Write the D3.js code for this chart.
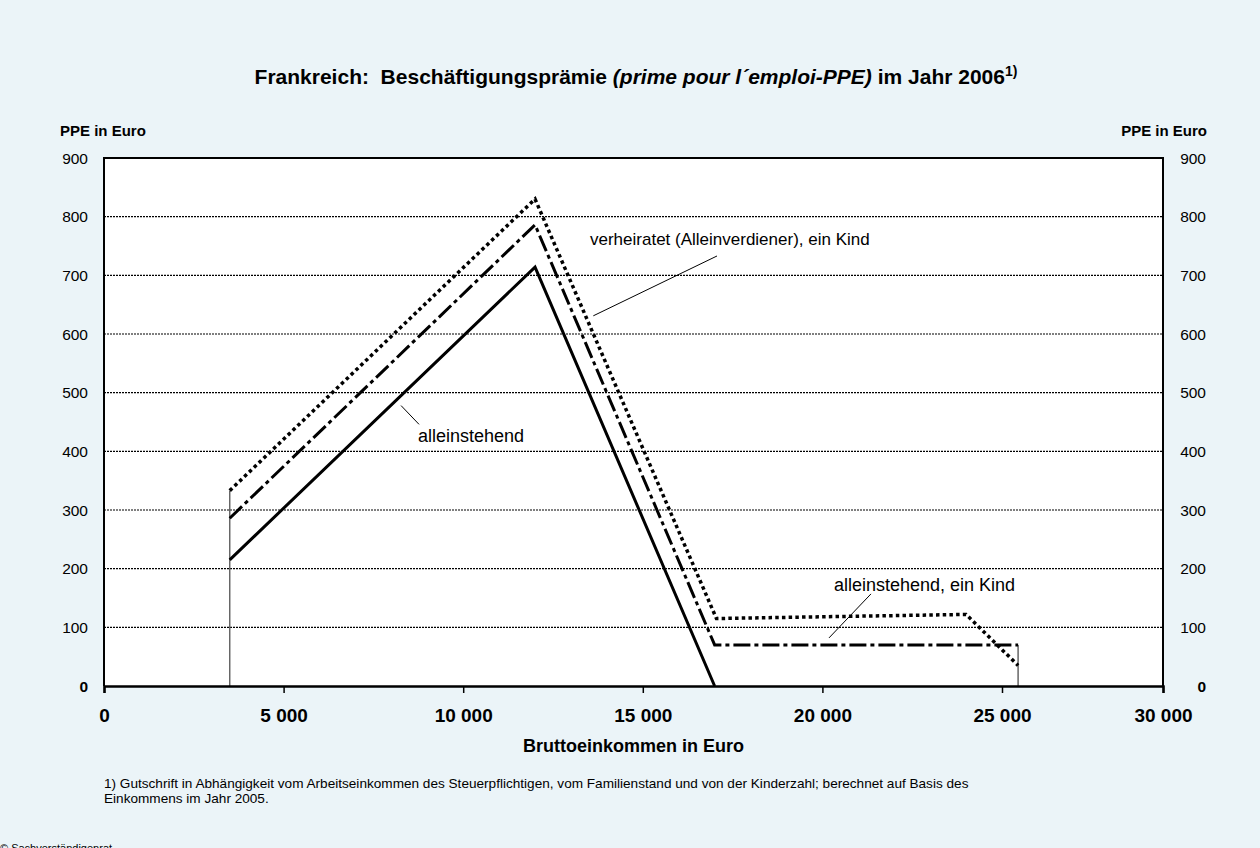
<!DOCTYPE html>
<html>
<head>
<meta charset="utf-8">
<script src="https://cdn.jsdelivr.net/npm/d3@7"></script>
<style>
  body { margin: 0; background: #ebf4f8; }
  svg { display: block; font-family: "Liberation Sans", Arial, sans-serif; }
</style>
</head>
<body>
<div id="chart"></div>
<script>
// Data (income in Euro, PPE in Euro)
const incomeSingle = [3500, 12000, 17000];
const ppeSingle = [215, 714, 0];

const incomeSingleChild = [3500, 12000, 17000, 25500];
const ppeSingleChild = [286, 786, 70, 70];

const incomeMarried = [3500, 12000, 17050, 20000, 24000, 25500];
const ppeMarried = [333, 830, 115, 118, 122, 35];

// thin vertical limits at start/end of eligibility
const limitIncome = [3500, 25500];
const limitPpe = [333, 70];

const xTicks = [0, 5000, 10000, 15000, 20000, 25000, 30000];
const yTicks = [0, 100, 200, 300, 400, 500, 600, 700, 800, 900];
const gridValues = [100, 200, 300, 400, 500, 600, 700, 800];

// annotations: label text, label anchor, leader line (all in data units)
const annotations = [
  { text: "verheiratet (Alleinverdiener), ein Kind", x: 13530, y: 752, size: 17, line: [[17066, 733], [13622, 631]] },
  { text: "alleinstehend", x: 8742, y: 416, size: 18, line: [[8270, 478], [8770, 446]] },
  { text: "alleinstehend, ein Kind", x: 20323, y: 162, size: 18, line: [[21353, 157], [20184, 82]] }
];

const W = 1260, H = 848;
const plot = { left: 104, right: 1163, top: 158, bottom: 686 };

const svg = d3.select("#chart").append("svg")
  .attr("width", W)
  .attr("height", H);

svg.append("rect")
  .attr("width", W).attr("height", H)
  .attr("fill", "#ebf4f8");

// the original axis has a shorter last interval, so use a piecewise scale
const x = d3.scaleLinear()
  .domain([0, 25000, 30000])
  .range([plot.left, 1002, plot.right]);

const y = d3.scaleLinear()
  .domain([0, 900])
  .range([plot.bottom, plot.top]);

const fmt = d3.formatLocale({ decimal: ",", thousands: " ", grouping: [3], currency: ["", " €"] }).format(",d");

// plot background
svg.append("rect")
  .attr("x", plot.left).attr("y", plot.top)
  .attr("width", plot.right - plot.left)
  .attr("height", plot.bottom - plot.top)
  .attr("fill", "#fff");

// gridlines
svg.append("g").selectAll("line")
  .data(gridValues)
  .enter().append("line")
  .attr("x1", plot.left).attr("x2", plot.right)
  .attr("y1", d => y(d)).attr("y2", d => y(d))
  .attr("stroke", "#000")
  .attr("stroke-width", 1.2)
  .attr("stroke-dasharray", "2,1");

// thin limit lines
svg.append("g").selectAll("line")
  .data(limitIncome)
  .enter().append("line")
  .attr("x1", d => x(d)).attr("x2", d => x(d))
  .attr("y1", y(0)).attr("y2", (d, i) => y(limitPpe[i]))
  .attr("stroke", "#666")
  .attr("stroke-width", 1.5);

// series
const line = d3.line().x(d => x(d[0])).y(d => y(d[1]));
const series = [
  { xs: incomeMarried, ys: ppeMarried, dash: "3.5,3.2", width: 3.5 },
  { xs: incomeSingleChild, ys: ppeSingleChild, dash: "17,4,4,4", width: 3 },
  { xs: incomeSingle, ys: ppeSingle, dash: null, width: 3 }
];
svg.append("g").selectAll("path")
  .data(series)
  .enter().append("path")
  .attr("d", d => line(d.xs.map((v, i) => [v, d.ys[i]])))
  .attr("fill", "none")
  .attr("stroke", "#000")
  .attr("stroke-width", d => d.width)
  .attr("stroke-dasharray", d => d.dash);

// frame (left, top, right) and x axis
svg.append("path")
  .attr("d", `M${plot.left},${plot.bottom}V${plot.top}H${plot.right}V${plot.bottom}`)
  .attr("fill", "none")
  .attr("stroke", "#000")
  .attr("stroke-width", 2);

const xAxis = svg.append("g")
  .attr("transform", `translate(0,${plot.bottom})`)
  .call(d3.axisBottom(x).tickValues(xTicks).tickFormat(fmt).tickSize(7).tickPadding(16));
xAxis.select(".domain").attr("stroke-width", 2.5).attr("stroke", "#000");
xAxis.selectAll(".tick line").attr("stroke-width", 1.5);
xAxis.selectAll("text")
  .attr("font-size", 19)
  .attr("font-weight", "bold")
  .attr("fill", "#000")
  .attr("font-family", "Liberation Sans, Arial, sans-serif");

// y labels, left and right
const yLabel = (anchorX) => {
  svg.append("g").selectAll("text")
    .data(yTicks)
    .enter().append("text")
    .attr("x", anchorX)
    .attr("y", d => y(d) + 5.5)
    .attr("text-anchor", "end")
    .attr("font-size", 15.5)
    .attr("font-weight", d => d === 0 ? "bold" : "normal")
    .text(d => d);
};
yLabel(88);
yLabel(1206);

svg.append("text")
  .attr("x", 60).attr("y", 136)
  .attr("font-size", 15).attr("font-weight", "bold")
  .text("PPE in Euro");
svg.append("text")
  .attr("x", 1207).attr("y", 136)
  .attr("text-anchor", "end")
  .attr("font-size", 15).attr("font-weight", "bold")
  .text("PPE in Euro");

svg.append("text")
  .attr("x", (plot.left + plot.right) / 2).attr("y", 752)
  .attr("text-anchor", "middle")
  .attr("font-size", 18).attr("font-weight", "bold")
  .text("Bruttoeinkommen in Euro");

// title
const title = svg.append("text")
  .attr("x", 636).attr("y", 84)
  .attr("text-anchor", "middle")
  .attr("font-size", 21).attr("font-weight", "bold");
title.append("tspan").text("Frankreich:\u00a0\u00a0Beschäftigungsprämie ");
title.append("tspan").attr("font-style", "italic").text("(prime pour l´emploi-PPE)");
title.append("tspan").text(" im Jahr 2006");
title.append("tspan").attr("font-size", 14).attr("dy", -8).text("1)");

// annotations
annotations.forEach(a => {
  svg.append("line")
    .attr("x1", x(a.line[0][0])).attr("y1", y(a.line[0][1]))
    .attr("x2", x(a.line[1][0])).attr("y2", y(a.line[1][1]))
    .attr("stroke", "#000").attr("stroke-width", 1);
  svg.append("text")
    .attr("x", x(a.x)).attr("y", y(a.y))
    .attr("font-size", a.size)
    .text(a.text);
});

// footnote
svg.append("text")
  .attr("x", 104).attr("y", 788)
  .attr("font-size", 13.6)
  .text("1) Gutschrift in Abhängigkeit vom Arbeitseinkommen des Steuerpflichtigen, vom Familienstand und von der Kinderzahl; berechnet auf Basis des");
svg.append("text")
  .attr("x", 104).attr("y", 803)
  .attr("font-size", 13.6)
  .text("Einkommens im Jahr 2005.");

svg.append("text")
  .attr("x", 0).attr("y", 852)
  .attr("font-size", 11)
  .text("© Sachverständigenrat");
</script>
</body>
</html>
